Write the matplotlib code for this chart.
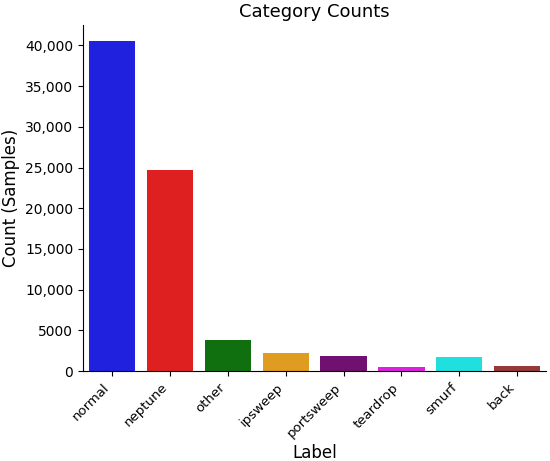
import matplotlib
matplotlib.use('Agg')
import matplotlib.pyplot as plt
import matplotlib.ticker as ticker
import seaborn as sns
import pandas as pd

labels = ['normal', 'neptune', 'other', 'ipsweep', 'portsweep', 'teardrop', 'smurf', 'back']
counts = [40500, 24700, 3800, 2200, 1800, 530, 1700, 650]
colors = ['blue', 'red', 'green', 'orange', 'purple', 'magenta', 'cyan', 'brown']

df = pd.DataFrame({'Label': labels, 'Count': counts})

fig, ax = plt.subplots(figsize=(5.5, 4.61), dpi=100)
fig.subplots_adjust(left=0.151, right=0.993, bottom=0.195, top=0.946)

sns.barplot(data=df, x='Label', y='Count', hue='Label', palette=colors, legend=False, ax=ax)

def fmt(x, pos):
    # commas only from 10,000 up, like the original
    if abs(x) >= 10000:
        return format(int(x), ',')
    return str(int(x))

ax.yaxis.set_major_formatter(ticker.FuncFormatter(fmt))
ax.set_title('Category Counts', fontsize=13)
ax.set_xlabel('Label', fontsize=12, labelpad=3)
ax.set_ylabel('Count (Samples)', fontsize=12)
ax.tick_params(axis='x', labelsize=9.5)
plt.setp(ax.get_xticklabels(), rotation=45, ha='right')
sns.despine(ax=ax)

fig.savefig('out.png')
